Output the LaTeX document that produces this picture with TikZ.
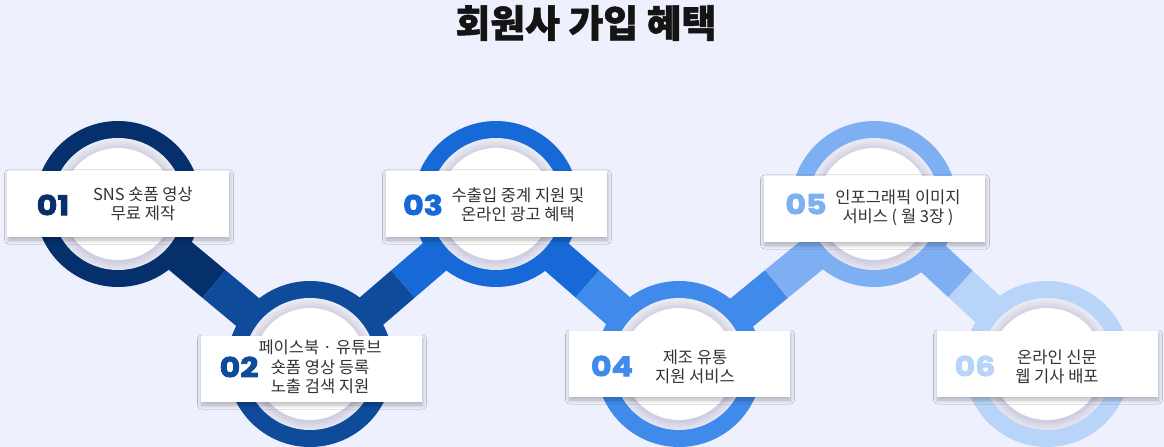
\documentclass[tikz,border=0pt]{standalone}
\usepackage{fontspec}
\setmainfont{Noto Sans CJK KR}
\newfontfamily\krfont{Noto Sans CJK KR}
\newfontfamily\titlefont{Noto Sans CJK KR}[BoldFeatures={FakeBold=1.5}]
\newfontfamily\numfont{Poppins}[BoldFeatures={FakeBold=3,FakeStretch=1.15}]
\usetikzlibrary{calc,shadows.blur}
\definecolor{bg}{HTML}{EEF0FD}
\definecolor{cA}{HTML}{06306B}
\definecolor{cB}{HTML}{0F4B9B}
\definecolor{cC}{HTML}{1669D7}
\definecolor{cD}{HTML}{3F8AEA}
\definecolor{cE}{HTML}{7EAFF2}
\definecolor{cF}{HTML}{B8D4F8}
\definecolor{ringshade}{HTML}{E9E9F3}
\definecolor{txtgray}{HTML}{333333}
\tikzset{
  bar/.style={line width=36bp, line cap=butt},
  infobox/.style={fill=white, minimum width=221bp, minimum height=66bp, inner sep=0pt,
    blur shadow={shadow xshift=1bp, shadow yshift=-3bp, shadow blur radius=4bp, shadow opacity=28, shadow blur steps=10}},
  numlabel/.style={font=\numfont\bfseries\fontsize{27.5bp}{28bp}\selectfont, inner sep=0pt},
  desc/.style={font=\krfont\fontsize{16.5bp}{19.5bp}\selectfont, text=txtgray, align=center, inner sep=0pt},
}
\newcommand{\ringdisk}[2]{%
  \fill[#2] (#1) circle (83);
  \fill[ringshade] (#1) circle (66);
  \foreach \rr in {65,64,...,57}{\fill[black!60!blue, opacity=0.012] ($(#1)+(0,1.5)$) circle (\rr);}
  \fill[white] (#1) circle (56);
}
\begin{document}
\begin{tikzpicture}[x=1bp,y=-1bp]
\fill[bg] (0,0) rectangle (1164,447);
\useasboundingbox (0,0) rectangle (1164,447);
\node[font=\titlefont\bfseries\fontsize{37.8bp}{40bp}\selectfont, text=black!92, inner sep=0pt] (title) at (586,23) {회원사 가입 혜택};
\coordinate (c1) at (118,204);
\coordinate (c2) at (310,364);
\coordinate (c3) at (496,204);
\coordinate (c4) at (679,364);
\coordinate (c5) at (874,204);
\coordinate (c6) at (1047,364);
\coordinate (m12) at ($(c1)!0.5!(c2)$);
\coordinate (m23) at ($(c2)!0.5!(c3)$);
\coordinate (m34) at ($(c3)!0.5!(c4)$);
\coordinate (m45) at ($(c4)!0.5!(c5)$);
\coordinate (m56) at ($(c5)!0.5!(c6)$);
\draw[bar, cA] (c1) -- (m12);
\draw[bar, cB] (m12) -- (c2);
\draw[bar, cB] (c2) -- (m23);
\draw[bar, cC] (m23) -- (c3);
\draw[bar, cC] (c3) -- (m34);
\draw[bar, cD] (m34) -- (c4);
\draw[bar, cD] (c4) -- (m45);
\draw[bar, cE] (m45) -- (c5);
\draw[bar, cE] (c5) -- (m56);
\draw[bar, cF] (m56) -- (c6);
\ringdisk{c1}{cA}
\ringdisk{c2}{cB}
\ringdisk{c3}{cC}
\ringdisk{c4}{cD}
\ringdisk{c5}{cE}
\ringdisk{c6}{cF}
\node[infobox] (b1) at (118,204) {};
\node[infobox] (b2) at (311,369) {};
\node[infobox] (b3) at (496,204) {};
\node[infobox] (b4) at (679,364) {};
\node[infobox] (b5) at (874,209) {};
\node[infobox] (b6) at (1047,364) {};
\node[numlabel, text=cA] (n1) at (53,205) {01};
\node[numlabel, text=cB] (n2) at (239,367) {02};
\node[numlabel, text=cC] (n3) at (423,205) {03};
\node[numlabel, text=cD] (n4) at (612,366) {04};
\node[numlabel, text=cE] (n5) at (806,204) {05};
\node[numlabel, text=cF] (n6) at (975,366) {06};
\node[desc] (t1) at (143,204) {SNS 숏폼 영상\\무료 제작};
\node[desc] (t2) at (320,367) {페이스북 · 유튜브\\숏폼 영상 등록\\노출 검색 지원};
\node[desc] (t3) at (518,205) {수출입 중계 지원 및\\온라인 광고 혜택};
\node[desc] (t4) at (695,367) {제조 유통\\지원 서비스};
\node[desc] (t5) at (898,208) {인포그래픽 이미지\\서비스 ( 월 3장 )};
\node[desc] (t6) at (1057,367) {온라인 신문\\웹 기사 배포};
\end{tikzpicture}
\end{document}
